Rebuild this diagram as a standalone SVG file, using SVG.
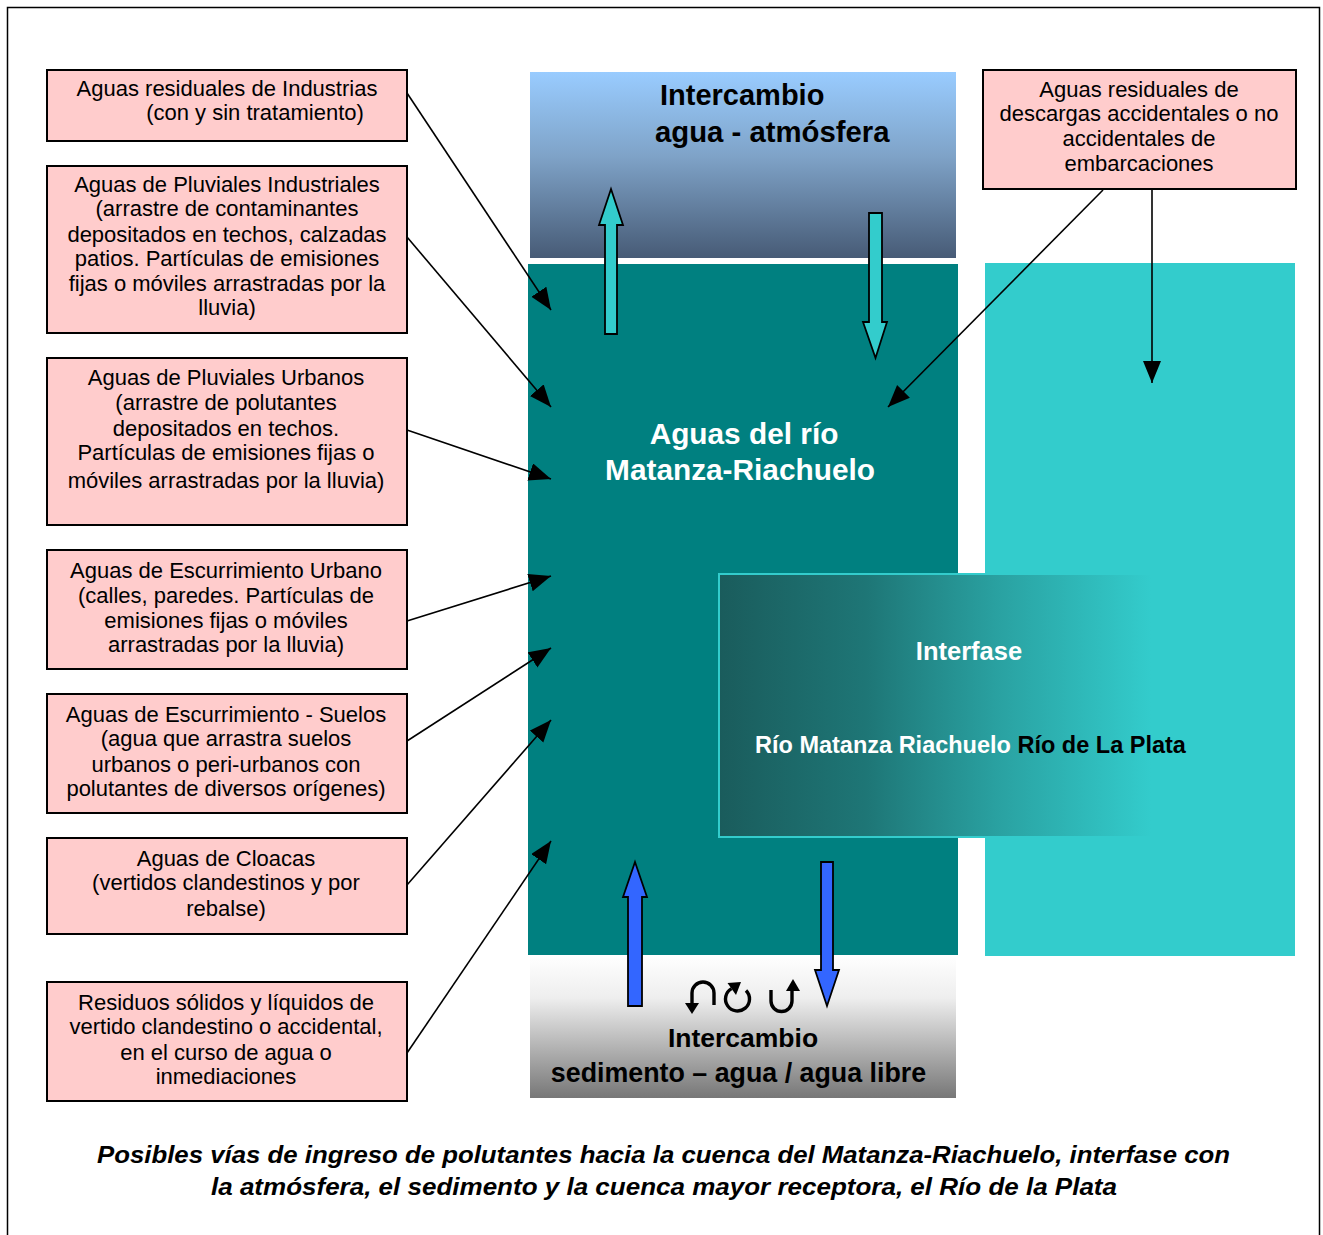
<svg xmlns="http://www.w3.org/2000/svg" width="1323" height="1235" viewBox="0 0 1323 1235">
<style>
.box{fill:#FFCCCC;stroke:#000;stroke-width:2}
.bt{font-family:"Liberation Sans",Arial,sans-serif;font-size:22px;fill:#000;text-anchor:middle}
.conn{stroke:#000;stroke-width:1.6;fill:none;marker-end:url(#ah)}
.bold{font-family:"Liberation Sans",Arial,sans-serif;font-weight:bold}
.blk{stroke:#000;stroke-width:1.8;stroke-linejoin:miter}
.giro{fill:none;stroke:#000;stroke-width:3.4}
</style>
<defs>
<marker id="ah" markerUnits="userSpaceOnUse" markerWidth="24" markerHeight="20" refX="22" refY="9" orient="auto">
<path d="M0,0 L22,9 L0,18 z" fill="#000"/>
</marker>
<linearGradient id="gAtm" x1="0" y1="0" x2="0" y2="1">
<stop offset="0" stop-color="#99CCFF"/>
<stop offset="0.45" stop-color="#7FA3C8"/>
<stop offset="1" stop-color="#475B76"/>
</linearGradient>
<linearGradient id="gSed" x1="0" y1="0" x2="0" y2="1">
<stop offset="0" stop-color="#FFFFFF"/>
<stop offset="0.3" stop-color="#EEEEEE"/>
<stop offset="1" stop-color="#777777"/>
</linearGradient>
<linearGradient id="gInt" x1="0" y1="0" x2="1" y2="0">
<stop offset="0" stop-color="#1A5C5C"/>
<stop offset="0.3" stop-color="#1E7676"/>
<stop offset="0.58" stop-color="#2AA3A3"/>
<stop offset="0.88" stop-color="#33CCCC"/>
<stop offset="1" stop-color="#33CCCC"/>
</linearGradient>
</defs>
<rect x="0" y="0" width="1323" height="1235" fill="#FFFFFF"/>
<rect id="frame" x="7.5" y="7.5" width="1312" height="1260" fill="none" stroke="#000" stroke-width="1.5"/>

<g id="atmosfera">
<rect x="530" y="72" width="426" height="186" fill="url(#gAtm)"/>
<text class="bold" x="660" y="105" font-size="29" fill="#000">Intercambio</text>
<text class="bold" x="655" y="142" font-size="29.3" fill="#000">agua - atmósfera</text>
</g>

<g id="rio">
<rect x="528" y="264" width="430" height="691" fill="#008080"/>
<text class="bold" x="744" y="444" font-size="29.8" fill="#FFF" text-anchor="middle">Aguas del río</text>
<text class="bold" x="740" y="480" font-size="29.8" fill="#FFF" text-anchor="middle">Matanza-Riachuelo</text>
</g>

<g id="plata">
<rect x="985" y="263" width="310" height="693" fill="#33CCCC"/>
</g>

<g id="interfase">
<rect x="719" y="574" width="491" height="263" fill="url(#gInt)"/>
<path d="M1210,574 L719,574 L719,837 L1210,837" fill="none" stroke="#33CCCC" stroke-width="2"/>
<text class="bold" x="969" y="660" font-size="25.5" fill="#FFF" text-anchor="middle">Interfase</text>
<text class="bold" x="755" y="753" font-size="23.5" fill="#FFF">Río Matanza Riachuelo <tspan fill="#000">Río de La Plata</tspan></text>
</g>

<g id="sedimento">
<rect x="530" y="955" width="426" height="143" fill="url(#gSed)"/>
<g id="giros">
<path class="giro" d="M714,1005 L714,993 A11,11 0 0 0 692,993 L692,1004"/>
<polygon points="685,1003 699,1003 692,1014" fill="#000"/>
<path class="giro" d="M746,990.5 A12,12 0 1 1 731.5,988.6"/>
<polygon points="741,982 736,995 727.5,983" fill="#000"/>
<path class="giro" d="M771,990 L771,1001 A10.5,10.5 0 0 0 792,1001 L792,990"/>
<polygon points="786,991 800,991 793,979" fill="#000"/>
</g>
<text class="bold" x="743" y="1047" font-size="26.5" fill="#000" text-anchor="middle">Intercambio</text>
<text class="bold" x="738.5" y="1082" font-size="26.8" fill="#000" text-anchor="middle">sedimento – agua / agua libre</text>
</g>

<g id="flujos">
<polygon class="blk" fill="#33CCCC" points="611,189 623,225 617,225 617,334 605,334 605,225 599,225"/>
<polygon class="blk" fill="#33CCCC" points="869,213 882,213 882,322 887,322 875.5,358 863,322 869,322"/>
<polygon class="blk" fill="#3366FF" points="635,862 647,897 642,897 642,1006 628,1006 628,897 623,897"/>
<polygon class="blk" fill="#3366FF" points="821,862 833,862 833,970 839,970 827,1006 815,970 821,970"/>
</g>

<g id="n1">
<rect class="box" x="47" y="70" width="360" height="71"/>
<text class="bt" x="227" y="96">Aguas residuales de Industrias</text>
<text class="bt" x="255" y="120">(con y sin tratamiento)</text>
</g>
<g id="n2">
<rect class="box" x="47" y="166" width="360" height="167"/>
<text class="bt" x="227" y="192">Aguas de Pluviales Industriales</text>
<text class="bt" x="227" y="216">(arrastre de contaminantes</text>
<text class="bt" x="227" y="242">depositados en techos, calzadas</text>
<text class="bt" x="227" y="266">patios. Partículas de emisiones</text>
<text class="bt" x="227" y="291">fijas o móviles arrastradas por la</text>
<text class="bt" x="227" y="315">lluvia)</text>
</g>
<g id="n3">
<rect class="box" x="47" y="358" width="360" height="167"/>
<text class="bt" x="226" y="385">Aguas de Pluviales Urbanos</text>
<text class="bt" x="226" y="410">(arrastre de polutantes</text>
<text class="bt" x="226" y="436">depositados en techos.</text>
<text class="bt" x="226" y="460">Partículas de emisiones fijas o</text>
<text class="bt" x="226" y="488">móviles arrastradas por la lluvia)</text>
</g>
<g id="n4">
<rect class="box" x="47" y="550" width="360" height="119"/>
<text class="bt" x="226" y="578">Aguas de Escurrimiento Urbano</text>
<text class="bt" x="226" y="603">(calles, paredes. Partículas de</text>
<text class="bt" x="226" y="628">emisiones fijas o móviles</text>
<text class="bt" x="226" y="652">arrastradas por la lluvia)</text>
</g>
<g id="n5">
<rect class="box" x="47" y="694" width="360" height="119"/>
<text class="bt" x="226" y="722">Aguas de Escurrimiento - Suelos</text>
<text class="bt" x="226" y="746">(agua que arrastra suelos</text>
<text class="bt" x="226" y="772">urbanos o peri-urbanos con</text>
<text class="bt" x="226" y="796">polutantes de diversos orígenes)</text>
</g>
<g id="n6">
<rect class="box" x="47" y="838" width="360" height="96"/>
<text class="bt" x="226" y="866">Aguas de Cloacas</text>
<text class="bt" x="226" y="890">(vertidos clandestinos y por</text>
<text class="bt" x="226" y="916">rebalse)</text>
</g>
<g id="n7">
<rect class="box" x="47" y="982" width="360" height="119"/>
<text class="bt" x="226" y="1010">Residuos sólidos y líquidos de</text>
<text class="bt" x="226" y="1034">vertido clandestino o accidental,</text>
<text class="bt" x="226" y="1060">en el curso de agua o</text>
<text class="bt" x="226" y="1084">inmediaciones</text>
</g>
<g id="n8">
<rect class="box" x="983" y="70" width="313" height="119"/>
<text class="bt" x="1139" y="97">Aguas residuales de</text>
<text class="bt" x="1139" y="121">descargas accidentales o no</text>
<text class="bt" x="1139" y="146">accidentales de</text>
<text class="bt" x="1139" y="171">embarcaciones</text>
</g>

<g id="connectors">
<line class="conn" x1="407" y1="93" x2="551" y2="310"/>
<line class="conn" x1="407" y1="237" x2="551" y2="407"/>
<line class="conn" x1="407" y1="430" x2="551" y2="479"/>
<line class="conn" x1="407" y1="621" x2="551" y2="576"/>
<line class="conn" x1="407" y1="741" x2="551" y2="648"/>
<line class="conn" x1="407" y1="885" x2="551" y2="720"/>
<line class="conn" x1="407" y1="1053" x2="551" y2="841"/>
<line class="conn" x1="1103" y1="190" x2="888" y2="407"/>
<line class="conn" x1="1152" y1="190" x2="1152" y2="383"/>
</g>

<g id="caption">
<text class="bold" x="663.5" y="1163" font-size="24.5" font-style="italic" text-anchor="middle" fill="#000" textLength="1133" lengthAdjust="spacingAndGlyphs">Posibles vías de ingreso de polutantes hacia la cuenca del Matanza-Riachuelo, interfase con</text>
<text class="bold" x="664" y="1195" font-size="24.5" font-style="italic" text-anchor="middle" fill="#000" textLength="906" lengthAdjust="spacingAndGlyphs">la atmósfera, el sedimento y la cuenca mayor receptora, el Río de la Plata</text>
</g>
</svg>
